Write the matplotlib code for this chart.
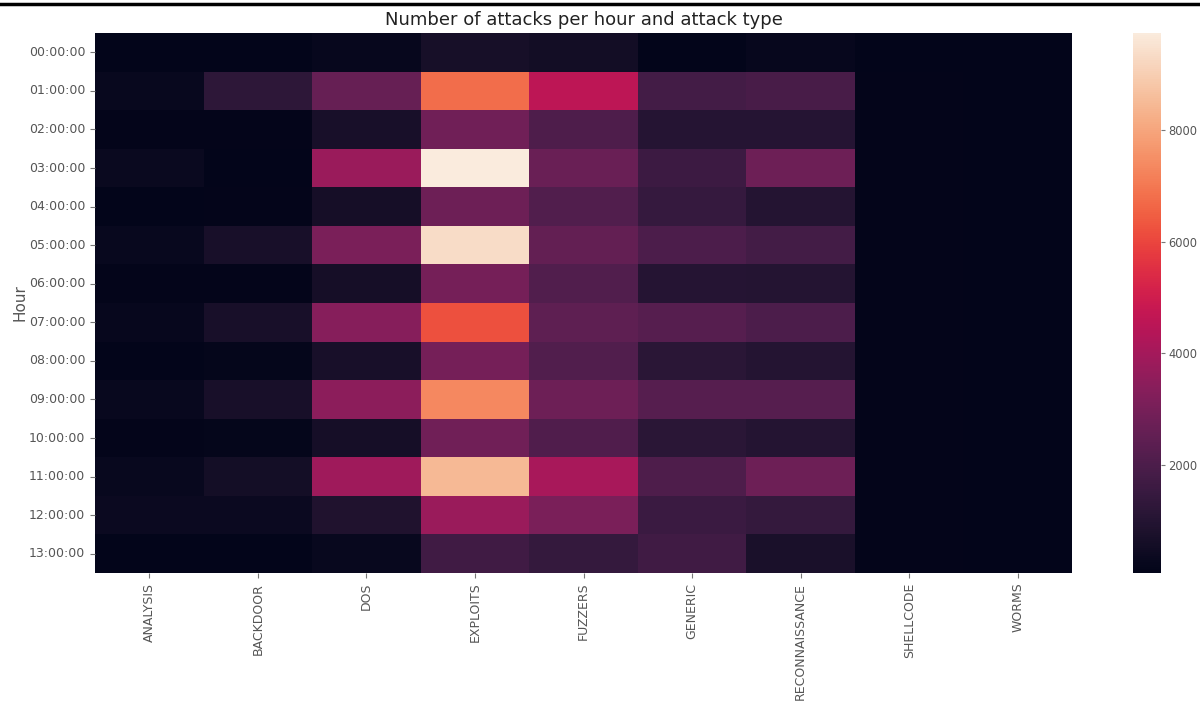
import numpy as np
import pandas as pd
import seaborn as sns
import matplotlib.pyplot as plt
from matplotlib.lines import Line2D

hours = ['%02d:00:00' % h for h in range(14)]
categories = ['ANALYSIS', 'BACKDOOR', 'DOS', 'EXPLOITS', 'FUZZERS',
              'GENERIC', 'RECONNAISSANCE', 'SHELLCODE', 'WORMS']

# counts per hour, one list per attack category
analysis = [63, 260, 120, 300, 90, 260, 120, 240, 90, 280, 120, 260, 350, 63]
backdoor = [63, 1220, 120, 63, 120, 700, 120, 690, 160, 700, 170, 580, 350, 63]
dos = [240, 2630, 690, 3790, 600, 3060, 600, 3350, 700, 3500, 600, 3890, 890, 260]
exploits = [640, 6770, 2830, 9740, 2780, 9350, 2950, 6190, 2950, 7350, 2830, 8480, 3790, 1710]
fuzzers = [550, 4580, 2050, 2680, 2140, 2530, 2140, 2440, 2140, 2750, 2070, 4080, 3060, 1420]
generic = [63, 1800, 1030, 1610, 1450, 2000, 1030, 2240, 1130, 2240, 1130, 2030, 1560, 1710]
recon = [240, 1900, 1030, 2750, 1000, 1800, 1000, 2000, 1000, 2240, 990, 2750, 1400, 740]
shellcode = [80, 120, 120, 120, 120, 120, 120, 120, 120, 120, 120, 120, 120, 110]
worms = [63, 70, 66, 70, 66, 70, 66, 70, 66, 70, 66, 70, 66, 63]

df = pd.DataFrame({'ANALYSIS': analysis, 'BACKDOOR': backdoor, 'DOS': dos,
                   'EXPLOITS': exploits, 'FUZZERS': fuzzers, 'GENERIC': generic,
                   'RECONNAISSANCE': recon, 'SHELLCODE': shellcode,
                   'WORMS': worms}, index=hours)[categories]

fig = plt.figure(figsize=(12, 7.15), dpi=100)
ax = fig.add_axes([95/1200, 1-573/715, 977/1200, 540/715])
cax = fig.add_axes([1133/1200, 1-573/715, 28/1200, 540/715])

sns.heatmap(df, ax=ax, cbar_ax=cax, cmap='rocket')

ax.set_title('Number of attacks per hour and attack type', fontsize=13, color='#222222')
ax.set_xlabel('Attack category', fontsize=11, color='#555555', labelpad=18)
ax.set_ylabel('Hour', fontsize=11, color='#555555', labelpad=1)
ax.tick_params(axis='both', colors='#777777', labelcolor='#555555', labelsize=9)
ax.set_xticklabels(categories, rotation=90)
ax.set_yticklabels(hours, rotation=0)
cax.tick_params(colors='#777777', labelcolor='#555555', labelsize=8.3, length=3, pad=2)

# black rule along the top edge
fig.add_artist(Line2D([0, 1], [1-3.5/715, 1-3.5/715], color='black', lw=2.5,
                      transform=fig.transFigure))

fig.savefig('out.png', dpi=100)
